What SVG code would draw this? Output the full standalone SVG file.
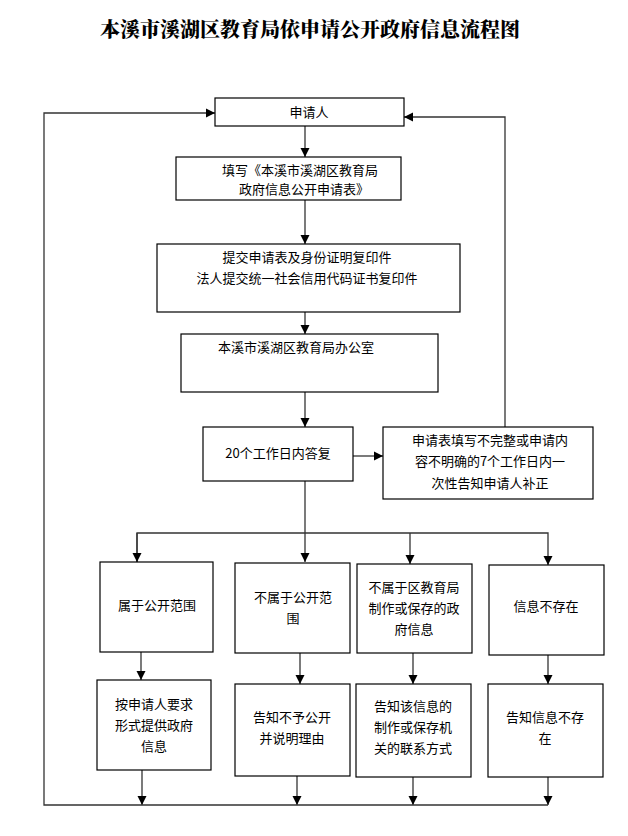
<svg xmlns="http://www.w3.org/2000/svg" width="628" height="836" viewBox="0 0 628 836">
<style>
.b{fill:#fff;stroke:#000;stroke-width:1.2}
.t{font-family:"Noto Sans CJK SC","Liberation Sans",sans-serif;font-size:13px;text-anchor:middle;fill:#000}
.c{fill:none;stroke:#333;stroke-width:1.3}
</style>
<defs><marker id="a" viewBox="0 0 10 10" refX="10" refY="5" markerWidth="7" markerHeight="7" orient="auto"><path d="M0,0L10,5L0,10z" fill="#000"/></marker></defs>
<rect width="628" height="836" fill="#fff"/>
<text x="310" y="37" font-family="Noto Serif CJK SC,Noto Sans CJK SC,serif" font-weight="900" font-size="20" text-anchor="middle">本溪市溪湖区教育局依申请公开政府信息流程图</text>
<g id="connectors">
<path class="c" d="M305,126V157" marker-end="url(#a)"/>
<path class="c" d="M305,200V244" marker-end="url(#a)"/>
<path class="c" d="M305,312V334" marker-end="url(#a)"/>
<path class="c" d="M305,392V427" marker-end="url(#a)"/>
<path class="c" d="M353,456H383" marker-end="url(#a)"/>
<path class="c" d="M505,427V117H404" marker-end="url(#a)"/>
<path class="c" d="M305,481V562" marker-end="url(#a)"/>
<path class="c" d="M137,562V533H548V565" marker-end="url(#a)"/>
<path class="c" d="M137,533V562" marker-end="url(#a)"/>
<path class="c" d="M410,533V564" marker-end="url(#a)"/>
<path class="c" d="M141,652V680" marker-end="url(#a)"/>
<path class="c" d="M300,653V684" marker-end="url(#a)"/>
<path class="c" d="M413,653V684" marker-end="url(#a)"/>
<path class="c" d="M548,655V684" marker-end="url(#a)"/>
<path class="c" d="M142,770V805" marker-end="url(#a)"/>
<path class="c" d="M297,776V805" marker-end="url(#a)"/>
<path class="c" d="M413,777V805" marker-end="url(#a)"/>
<path class="c" d="M548,777V805" marker-end="url(#a)"/>
<path class="c" d="M548,805H44V113H215" marker-end="url(#a)"/>
</g>
<g id="n1"><rect class="b" x="215" y="98" width="189" height="28"/><text class="t" x="309" y="117">申请人</text></g>
<g id="n2"><rect class="b" x="176" y="157" width="225" height="43"/><text class="t" x="300" y="175">填写《本溪市溪湖区教育局</text><text class="t" x="304" y="194">政府信息公开申请表》</text></g>
<g id="n3"><rect class="b" x="157" y="244" width="303" height="68"/><text class="t" x="307" y="262">提交申请表及身份证明复印件</text><text class="t" x="307" y="283">法人提交统一社会信用代码证书复印件</text></g>
<g id="n4"><rect class="b" x="181" y="334" width="257" height="58"/><text class="t" x="296" y="352">本溪市溪湖区教育局办公室</text></g>
<g id="n5"><rect class="b" x="203" y="427" width="150" height="54"/><text class="t" x="278" y="458">20个工作日内答复</text></g>
<g id="n6"><rect class="b" x="383" y="427" width="210" height="72"/><text class="t" x="490" y="445">申请表填写不完整或申请内</text><text class="t" x="490" y="466">容不明确的7个工作日内一</text><text class="t" x="490" y="488">次性告知申请人补正</text></g>
<g id="n7"><rect class="b" x="100" y="562" width="113" height="90"/><text class="t" x="157" y="610">属于公开范围</text></g>
<g id="n8"><rect class="b" x="235" y="563" width="115" height="90"/><text class="t" x="293" y="602">不属于公开范</text><text class="t" x="293" y="623">围</text></g>
<g id="n9"><rect class="b" x="357" y="564" width="115" height="89"/><text class="t" x="414" y="592">不属于区教育局</text><text class="t" x="414" y="613">制作或保存的政</text><text class="t" x="414" y="634">府信息</text></g>
<g id="n10"><rect class="b" x="489" y="565" width="115" height="90"/><text class="t" x="546" y="611">信息不存在</text></g>
<g id="n11"><rect class="b" x="97" y="680" width="114" height="90"/><text class="t" x="154" y="709">按申请人要求</text><text class="t" x="154" y="730">形式提供政府</text><text class="t" x="154" y="751">信息</text></g>
<g id="n12"><rect class="b" x="235" y="684" width="115" height="92"/><text class="t" x="292" y="722">告知不予公开</text><text class="t" x="292" y="743">并说明理由</text></g>
<g id="n13"><rect class="b" x="356" y="684" width="115" height="93"/><text class="t" x="413" y="711">告知该信息的</text><text class="t" x="413" y="732">制作或保存机</text><text class="t" x="413" y="753">关的联系方式</text></g>
<g id="n14"><rect class="b" x="488" y="684" width="115" height="93"/><text class="t" x="545" y="722">告知信息不存</text><text class="t" x="545" y="743">在</text></g>
</svg>
